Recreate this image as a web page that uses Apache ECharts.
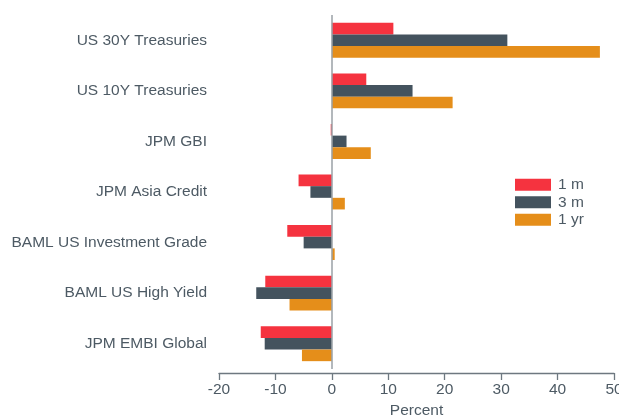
<!DOCTYPE html>
<html><head><meta charset="utf-8">
<script src="https://cdn.jsdelivr.net/npm/echarts@6/dist/echarts.min.js"></script>
<style>html,body{margin:0;padding:0;background:#fff}#c{width:619px;height:417px}</style>
</head><body><div id="c"></div>
<script>
const categories = ["US 30Y Treasuries","US 10Y Treasuries","JPM GBI","JPM Asia Credit","BAML US Investment Grade","BAML US High Yield","JPM EMBI Global"];
const seriesNames = ["1 m","3 m","1 yr"];
const oneMonth = [10.9, 6.1, -0.2, -5.9, -7.9, -11.8, -12.6];
const threeMonth = [31.1, 14.3, 2.6, -3.8, -5.0, -13.4, -11.9];
const oneYear = [47.5, 21.4, 6.9, 2.3, 0.5, -7.5, -5.3];
const xTicks = {min: -20, max: 50, interval: 10};
const xName = "Percent";

const colors = ["#f5333f", "#44535e", "#e58e1a"];
const txt = "#4d5a64";
const font = "Liberation Sans, Arial, sans-serif";
const chart = echarts.init(document.getElementById('c'), null, {renderer: 'canvas'});
const values = [oneMonth, threeMonth, oneYear];
chart.setOption({
  animation: false,
  textStyle: {fontFamily: font},
  grid: {left: 219, right: 5, top: 15, bottom: 48, containLabel: false, outerBoundsMode: 'none'},
  legend: {
    orient: 'vertical', left: 515, top: 176, padding: 0, itemGap: 0,
    itemWidth: 36, itemHeight: 12, icon: 'rect', itemStyle:{borderWidth:0},
    textStyle: {fontSize: 15.5, color: txt, lineHeight: 17.5, padding: [0,0,0,2]},
    data: seriesNames
  },
  xAxis: {
    type: 'value', min: xTicks.min, max: xTicks.max, interval: xTicks.interval,
    offset: 4,
    name: xName, nameLocation: 'middle', nameGap: 30,
    nameTextStyle: {fontSize: 15.5, color: txt},
    axisLine: {show: true, lineStyle: {color: '#6e7880', width: 1.3}},
    axisTick: {show: true, length: 7, lineStyle: {color: '#6e7880', width: 1.3}},
    axisLabel: {fontSize: 15.5, color: txt, margin: 9},
    splitLine: {show: false}
  },
  yAxis: {
    type: 'category', data: categories, inverse: true,
    axisLine: {show: false}, axisTick: {show: false},
    axisLabel: {fontSize: 15.5, color: txt, margin: 12}
  },
  series: seriesNames.map((n, i) => ({
    name: n, type: 'bar', data: values[i],
    itemStyle: {color: colors[i]},
    barGap: '0%', barCategoryGap: '31%',
    markLine: i === 0 ? {
      silent: true, symbol: ['none','none'], label: {show: false},
      lineStyle: {color: '#9aa1a6', width: 1.5, type: 'solid'},
      data: [{xAxis: 0}]
    } : undefined
  }))
});
</script></body></html>
